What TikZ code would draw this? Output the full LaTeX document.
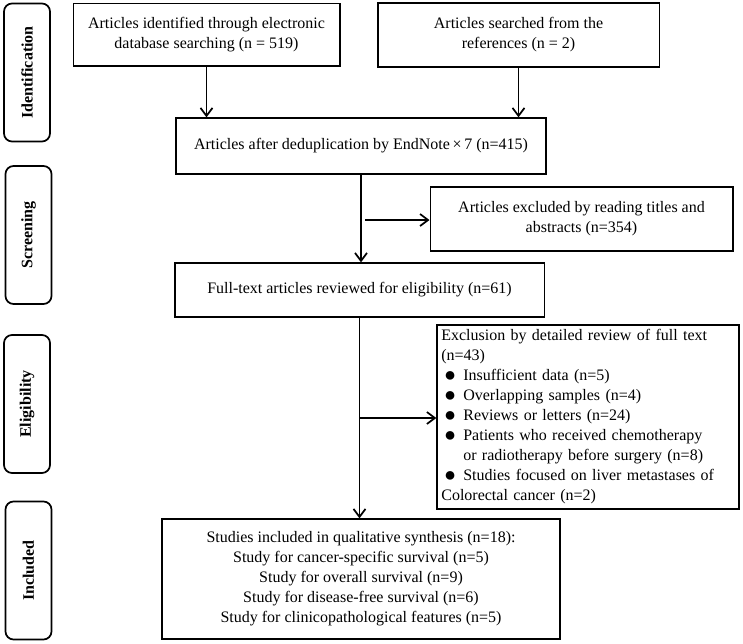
\documentclass[tikz,border=0pt]{standalone}
\usepackage{fontspec}
\setmainfont{Liberation Serif}
\usetikzlibrary{arrows.meta}
\newcommand{\bul}{\hspace*{2pt}\makebox[14.5pt][l]{\raisebox{-0.3pt}{\fontsize{15pt}{15pt}\selectfont●}}}

\begin{document}
\begin{tikzpicture}[x=0.75pt, y=-0.75pt]
            \tikzset{box/.style = {shape=rectangle, draw, line width=1pt, inner sep=2pt, align=center, font=\fontsize{12pt}{15pt}\selectfont}}
            \tikzset{phase/.style = {shape=rectangle, draw, line width=1.3pt, rounded corners=6pt, rotate=90, minimum width=103.5pt, minimum height=34.5pt, font=\bfseries\fontsize{12pt}{15pt}\selectfont}}
            \tikzset{edge/.style = {line width=1.3pt, -{Straight Barb[length=6pt, width=9pt, line width=1.3pt]}}}

            \useasboundingbox (0, 0) rectangle (743, 643);

            \node[phase] (p1) at (27, 72.5) {Identification};
            \node[phase] (p2) at (28.5, 235) {Screening};
            \node[phase] (p3) at (27, 404) {Eligibility};
            \node[phase] (p4) at (28.5, 570.5) {Included};

            \node[box, minimum width=200pt, minimum height=47pt] (1) at (206.5, 34.5) {Articles identified through electronic\\database searching (n = 519)};
            \node[box, minimum width=211pt, minimum height=48pt] (2) at (518.5, 35) {Articles searched from the\\references (n = 2)};

            \node[box, minimum width=277.5pt, minimum height=42pt] (3) at (361, 146) {Articles after deduplication by EndNote\,×\,7 (n=415)};
            \node[box, minimum width=227pt, minimum height=48pt] (4) at (581.5, 219) {Articles excluded by reading titles and\\abstracts (n=354)};

            \node[box, minimum width=277pt, minimum height=40.5pt] (5) at (359.5, 290) {Full-text articles reviewed for eligibility (n=61)};
            \node[box, minimum width=226.5pt, minimum height=138pt, text width=220pt, align=left] (6) at (588, 417) {Exclusion by detailed review of full text\\(n=43)\\
                \bul Insufficient data (n=5)\\
                \bul Overlapping samples (n=4)\\
                \bul Reviews or letters (n=24)\\
                \bul Patients who received chemotherapy\\
                \hspace*{16.5pt}or radiotherapy before surgery (n=8)\\
                \bul Studies focused on liver metastases of\\
                Colorectal cancer (n=2)};

            \node[box, minimum width=298.5pt, minimum height=90pt] (7) at (361, 579) {Studies included in qualitative synthesis (n=18):\\Study for cancer-specific survival (n=5)\\Study for overall survival (n=9)\\Study for disease-free survival (n=6)\\Study for clinicopathological features (n=5)};

            \coordinate (s1) at (365, 220);
            \coordinate (s2) at (360, 418);

            \draw[edge] (1.south) to (1.south |- 3.north);
            \draw[edge] (2.south) to (2.south |- 3.north);
            \draw[edge] (3.south) to (3.south |- 5.north);
            \draw[edge] (s1) to (s1 -| 4.west);
            \draw[edge] (5.south) to (5.south |- 7.north);
            \draw[edge, shorten <=-0.6pt] (s2) to (s2 -| 6.west);
        \end{tikzpicture}
\end{document}
